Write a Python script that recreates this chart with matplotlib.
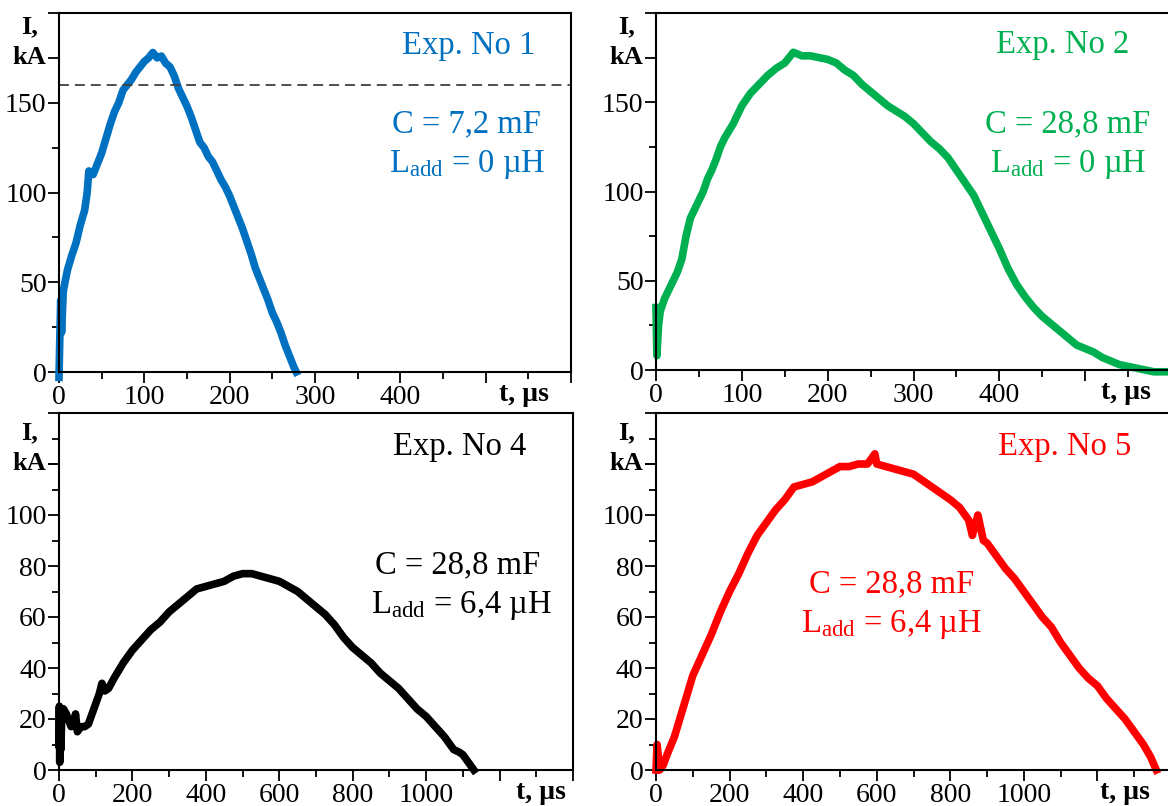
"""
Discharge current waveforms I(t) for four experiments, 2x2 panels.
"""

import matplotlib
matplotlib.use("Agg")
import matplotlib.pyplot as plt
from matplotlib.ticker import MultipleLocator

plt.rcParams["font.family"] = ["Liberation Serif", "DejaVu Serif"]
plt.rcParams["mathtext.fontset"] = "custom"
plt.rcParams["mathtext.rm"] = "Liberation Serif"
plt.rcParams["mathtext.it"] = "Liberation Serif:italic"
plt.rcParams["mathtext.bf"] = "Liberation Serif:bold"

# ---- data (t in us, I in kA) ----
t1 = [0, 1, 2, 3, 5, 7, 10, 15, 20, 25, 30, 33, 35, 40, 45, 50, 55, 60, 65,
      70, 75, 80, 85, 90, 95, 100, 105, 110, 115, 120, 125, 130, 135, 140, 145,
      150, 155, 160, 165, 170, 175, 180, 185, 190, 195, 200, 205, 210, 215,
      220, 225, 230, 235, 240, 245, 250, 255, 260, 265, 270, 275, 278]
i1 = [-3, 20, 40, 22, 45, 50, 57, 65, 72, 82, 90, 100, 112, 110, 116, 122,
      130, 138, 145, 150, 157, 160, 163, 167, 170, 173, 175, 178, 175, 176,
      172, 170, 165, 158, 153, 148, 142, 135, 128, 125, 120, 117, 112, 107,
      103, 98, 92, 86, 80, 73, 66, 58, 52, 46, 40, 33, 28, 22, 15, 9, 3, 0]

t2 = [0, 1, 3, 5, 10, 15, 20, 25, 30, 35, 40, 45, 50, 55, 60, 65, 70, 75, 80,
      90, 100, 110, 120, 130, 140, 150, 160, 170, 180, 190, 200, 210, 220, 230,
      240, 250, 260, 270, 280, 290, 300, 310, 320, 330, 340, 350, 360, 370,
      380, 390, 400, 410, 420, 430, 440, 450, 460, 470, 480, 490, 500, 510,
      520, 530, 540, 550, 560, 570, 580, 590, 600]
i2 = [35, 8, 25, 33, 40, 45, 50, 55, 62, 75, 85, 90, 95, 100, 107, 112, 118,
      125, 130, 138, 148, 155, 160, 165, 169, 172, 178, 176, 176, 175, 174,
      172, 168, 165, 160, 156, 152, 148, 145, 142, 138, 133, 128, 124, 119,
      112, 105, 98, 88, 78, 68, 57, 48, 41, 35, 30, 26, 22, 18, 14, 12, 10, 7,
      5, 3, 2, 1, 0, -1, -1, -1]

t4 = [0, 1, 2, 3, 5, 8, 12, 20, 25, 33, 40, 45, 50, 60, 70, 80, 90, 100, 110,
      117, 125, 135, 150, 175, 200, 225, 250, 275, 300, 325, 350, 375, 400,
      425, 450, 475, 500, 525, 550, 575, 600, 625, 650, 675, 700, 725, 750,
      775, 800, 825, 850, 875, 900, 925, 950, 975, 1000, 1025, 1050, 1075,
      1090, 1100, 1115, 1130]
i4 = [10, 25, 3, 22, 8, 24, 24, 22, 20, 17, 18, 22, 15, 17, 17, 18, 22, 26, 30,
      34, 31, 32, 36, 42, 47, 51, 55, 58, 62, 65, 68, 71, 72, 73, 74, 76, 77,
      77, 76, 75, 74, 72, 70, 67, 64, 61, 57, 52, 48, 45, 42, 38, 35, 32, 28,
      24, 21, 17, 13, 8, 7, 6, 3, 0]

t5 = [0, 3, 10, 20, 30, 50, 75, 100, 125, 150, 175, 200, 225, 250, 275, 300,
      325, 350, 375, 400, 425, 450, 475, 500, 525, 550, 575, 595, 600, 625,
      650, 700, 750, 800, 825, 850, 860, 875, 890, 900, 925, 950, 975, 1000,
      1025, 1050, 1075, 1100, 1125, 1150, 1175, 1200, 1225, 1250, 1275, 1300,
      1325, 1345, 1360]
i5 = [0, 10, 0, 2, 6, 13, 25, 37, 45, 53, 62, 70, 77, 85, 92, 97, 102, 106,
      111, 112, 113, 115, 117, 119, 119, 120, 120, 124, 120, 119, 118, 116,
      111, 106, 103, 98, 92, 100, 90, 89, 84, 79, 75, 70, 65, 60, 56, 50, 45,
      40, 36, 33, 28, 24, 20, 15, 10, 5, 0]

W, H = 1168, 806
BLUE, GREEN, RED, BLACK = "#0070C0", "#00B050", "#FF0000", "#000000"


def px_rect(left, right, top, bottom):
    return [left / W, 1 - bottom / H, (right - left) / W, (bottom - top) / H]


def style_axes(ax, xmax, xmajor, xminor, xlabeled, ymax, ymajor, yminor,
               ylabeled, ka_tick, tlab_x, right_spine=True):
    ax.set_xlim(0, xmax)
    ax.set_ylim(0, ymax)
    ax.xaxis.set_major_locator(MultipleLocator(xmajor))
    ax.xaxis.set_minor_locator(MultipleLocator(xminor))
    ax.yaxis.set_major_locator(MultipleLocator(ymajor))
    ax.yaxis.set_minor_locator(MultipleLocator(yminor))
    ax.xaxis.set_major_formatter(
        lambda v, p: f"{v:.0f}" if v <= xlabeled + 1e-6 else "")
    ax.yaxis.set_major_formatter(
        lambda v, p: f"{v:.0f}" if v <= ylabeled + 1e-6 else "")
    # extra major y tick where "kA" sits
    ax.set_yticks(list(ax.get_yticks()) + [ka_tick])
    ax.set_ylim(0, ymax)
    ax.tick_params(which="major", direction="out", length=8, width=1.3,
                   labelsize=20, pad=1)
    ax.tick_params(which="minor", direction="out", length=5, width=1.3)
    ax.tick_params(axis="x", which="major", pad=1)
    for s in ax.spines.values():
        s.set_linewidth(1.5)
    ax.spines["right"].set_visible(right_spine)
    ax.annotate("kA", xy=(0, ka_tick), xycoords=ax.get_yaxis_transform(),
                xytext=(-30, 0), textcoords="offset pixels", ha="center",
                va="center", fontsize=19, fontweight="bold")
    ax.annotate("I,", xy=(0, ka_tick), xycoords=ax.get_yaxis_transform(),
                xytext=(-29, 31), textcoords="offset pixels", ha="center",
                va="center", fontsize=19, fontweight="bold")
    ax.annotate("t, µs", xy=(tlab_x, 0), xycoords="data",
                xytext=(0, -10), textcoords="offset pixels", ha="center",
                va="top", fontsize=20, fontweight="bold", annotation_clip=False)


def add_labels(ax, color, title, c_text, l_text, title_pos, c_pos, l_pos):
    kw = dict(transform=ax.transAxes, ha="center", va="baseline",
              fontsize=23.5, color=color)
    ax.text(*title_pos, title, **kw)
    ax.text(*c_pos, c_text, **kw)
    ax.text(*l_pos, l_text, **kw)


fig = plt.figure(figsize=(W / 100, H / 100), dpi=100)

ax1 = fig.add_axes(px_rect(59, 571, 13, 372))
ax2 = fig.add_axes(px_rect(656, 1171, 13, 370))
ax3 = fig.add_axes(px_rect(59, 573, 413, 770))
ax4 = fig.add_axes(px_rect(656, 1171, 413, 770))

lw = 5.5
ax1.plot(t1, i1, color=BLUE, lw=lw, clip_on=False, solid_joinstyle="round")
ax1.axhline(160, color="#404040", lw=1.3, ls=(0, (5.5, 3.3)))
ax2.plot(t2, i2, color=GREEN, lw=lw, clip_on=False, solid_joinstyle="round")
ax3.plot(t4, i4, color=BLACK, lw=lw, clip_on=False, solid_joinstyle="round")
ax4.plot(t5, i5, color=RED, lw=lw, clip_on=False, solid_joinstyle="round")

style_axes(ax1, 600, 100, 50, 400, 200, 50, 25, 150, 175, 545)
style_axes(ax2, 600, 100, 50, 400, 200, 50, 25, 150, 175, 548,
           right_spine=False)
style_axes(ax3, 1400, 200, 100, 1000, 140, 20, 10, 100, 120, 1312)
style_axes(ax4, 1400, 200, 100, 1000, 140, 20, 10, 100, 120, 1275,
           right_spine=False)

add_labels(ax1, BLUE, "Exp. No 1", "C = 7,2 mF", r"L$_{\rm add}$ = 0 µH",
           (0.80, 0.886), (0.795, 0.669), (0.797, 0.557))
add_labels(ax2, GREEN, "Exp. No 2", "C = 28,8 mF", r"L$_{\rm add}$ = 0 µH",
           (0.79, 0.888), (0.80, 0.667), (0.80, 0.555))
add_labels(ax3, BLACK, "Exp. No 4", "C = 28,8 mF", r"L$_{\rm add}$ = 6,4 µH",
           (0.78, 0.882), (0.776, 0.552), (0.784, 0.44))
add_labels(ax4, RED, "Exp. No 5", "C = 28,8 mF", r"L$_{\rm add}$ = 6,4 µH",
           (0.794, 0.882), (0.457, 0.499), (0.457, 0.387))

fig.savefig("out.png", dpi=100)
